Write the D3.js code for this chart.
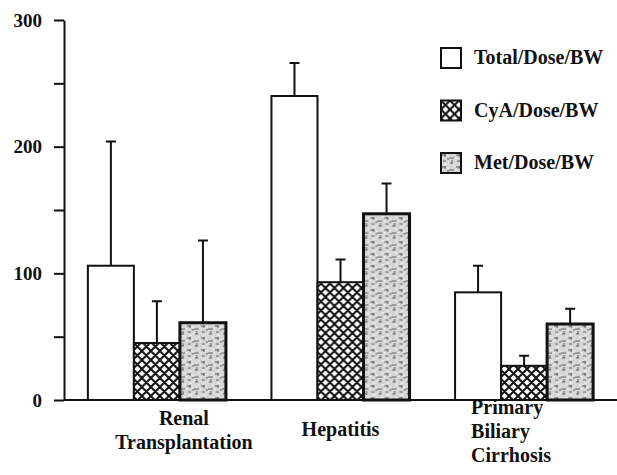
<!DOCTYPE html>
<html>
<head>
<meta charset="utf-8">
<script src="https://cdn.jsdelivr.net/npm/d3@7"></script>
<style>
  body { margin: 0; background: #fff; }
  svg text { font-family: "Liberation Serif", "Times New Roman", serif; font-weight: bold; fill: #111; }
</style>
</head>
<body>
<svg id="vis-svg" width="617" height="475"></svg>
<script>
// groups, series and values
const categories = ["Renal Transplantation", "Hepatitis", "Primary Biliary Cirrhosis"];
const series = ["Total/Dose/BW", "CyA/Dose/BW", "Met/Dose/BW"];
const totalValues = [106, 240, 85];
const totalSD = [98, 26, 21];
const cyaValues = [45, 93, 27];
const cyaSD = [33, 18, 8];
const metValues = [61, 147, 60];
const metSD = [65, 24, 12];
const yTicks = [0, 50, 100, 150, 200, 250, 300];

const width = 617, height = 475;
const margin = {top: 20, left: 64, bottom: 75};

const svg = d3.select("#vis-svg");

// patterns
const defs = svg.append("defs");
const cross = defs.append("pattern")
    .attr("id", "cross")
    .attr("patternUnits", "userSpaceOnUse")
    .attr("width", 9).attr("height", 9);
cross.append("rect").attr("width", 9).attr("height", 9).attr("fill", "#fff");
cross.append("path")
    .attr("d", "M0,0L9,9M9,0L0,9M-1,8L1,10M8,-1L10,1")
    .attr("stroke", "#111").attr("stroke-width", 2);

const met = defs.append("pattern")
    .attr("id", "met")
    .attr("patternUnits", "userSpaceOnUse")
    .attr("width", 14).attr("height", 12);
met.append("rect").attr("width", 14).attr("height", 12).attr("fill", "#d6d6d6");
met.append("path")
    .attr("d", "M1,2h4M8,5h5M2,8h3M9,10h3M4,1v3M11,7v3M6,6h2")
    .attr("stroke", "#555").attr("stroke-width", 0.9);
met.append("path")
    .attr("d", "M0,5h2M6,3h2M12,1h2M3,11h3M7,9h1")
    .attr("stroke", "#f4f4f4").attr("stroke-width", 1.2);

const fills = ["#fff", "url(#cross)", "url(#met)"];
const strokeW = [2, 2, 3];

const data = categories.map((c, i) => ({
    cat: c,
    bars: [
        {s: series[0], v: totalValues[i], sd: totalSD[i]},
        {s: series[1], v: cyaValues[i], sd: cyaSD[i]},
        {s: series[2], v: metValues[i], sd: metSD[i]}
    ]
}));

// scales
const x0 = d3.scaleBand().domain(categories).range([margin.left, width])
    .paddingInner(0.248).paddingOuter(0.13);
const x1 = d3.scaleBand().domain(series).range([0, x0.bandwidth()]);
const y = d3.scaleLinear().domain([0, 300]).range([height - margin.bottom, margin.top]);

// bars
const groups = svg.selectAll(".group")
    .data(data)
  .enter().append("g")
    .attr("transform", d => "translate(" + x0(d.cat) + ",0)");

groups.selectAll(".err")
    .data(d => d.bars)
  .enter().append("path")
    .attr("d", d => {
        const cx = x1(d.s) + x1.bandwidth() / 2;
        return "M" + cx + "," + y(d.v) + "V" + y(d.v + d.sd) +
               "M" + (cx - 5) + "," + y(d.v + d.sd) + "H" + (cx + 5);
    })
    .attr("stroke", "#111").attr("stroke-width", 2).attr("fill", "none");

groups.selectAll(".bar")
    .data(d => d.bars)
  .enter().append("rect")
    .attr("x", d => x1(d.s))
    .attr("y", d => y(d.v))
    .attr("width", x1.bandwidth())
    .attr("height", d => y(0) - y(d.v))
    .attr("fill", (d, i) => fills[i])
    .attr("stroke", "#111")
    .attr("stroke-width", (d, i) => strokeW[i]);

// y axis
const yAxis = svg.append("g")
    .attr("transform", "translate(" + margin.left + ",0)")
    .call(d3.axisLeft(y).tickValues(yTicks).tickSize(10).tickSizeOuter(0).tickPadding(12)
        .tickFormat(d => d % 100 === 0 ? d : ""));
yAxis.select(".domain").attr("stroke", "#111").attr("stroke-width", 2);
yAxis.selectAll(".tick line").attr("stroke", "#111").attr("stroke-width", 2);
yAxis.selectAll(".tick text")
    .style("font-family", "'Liberation Serif', serif")
    .style("font-weight", "bold")
    .style("font-size", "19px")
    .attr("fill", "#111");

// baseline
svg.append("line")
    .attr("x1", margin.left).attr("x2", width)
    .attr("y1", y(0)).attr("y2", y(0))
    .attr("stroke", "#111").attr("stroke-width", 2);

// category labels
const labelY = [425, 436, 414];
data.forEach((d, i) => {
    const lines = d.cat.split(" ");
    const t = svg.append("text")
        .attr("font-size", "20px")
        .attr("text-anchor", i === 2 ? "start" : "middle");
    const xPos = i === 2 ? x0(d.cat) + 16 : x0(d.cat) + x0.bandwidth() / 2 + (i === 0 ? 27 : 0);
    lines.forEach((w, j) => {
        t.append("tspan").attr("x", xPos).attr("y", labelY[i] + j * 24).text(w);
    });
});

// legend
const legend = svg.selectAll(".legend")
    .data(series)
  .enter().append("g")
    .attr("transform", (d, i) => "translate(441," + (48 + i * 52.5) + ")");
legend.append("rect")
    .attr("width", 20).attr("height", 20)
    .attr("fill", (d, i) => fills[i])
    .attr("stroke", "#111").attr("stroke-width", 2);
legend.append("text")
    .attr("x", 33).attr("y", 16)
    .attr("font-size", "20px")
    .text(d => d);
</script>
</body>
</html>
